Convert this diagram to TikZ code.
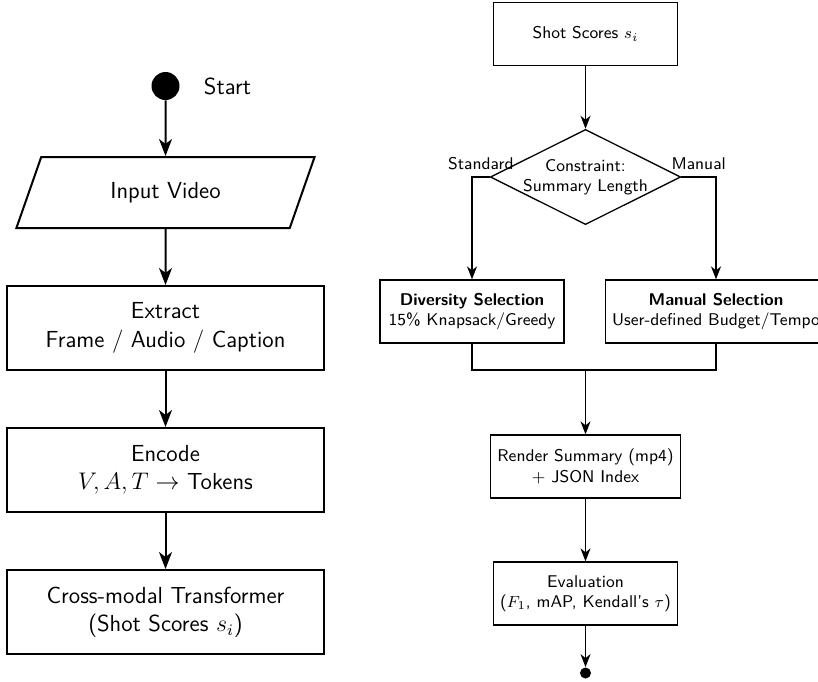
\documentclass[tikz,border=0pt]{standalone}
\usepackage{fontspec}
\usepackage{tikz}
\usetikzlibrary{arrows.meta}
\usetikzlibrary{shapes.geometric}
\usetikzlibrary{calc,positioning}

\begin{document}
\begin{tikzpicture}[x=0.5pt, y=-0.5pt,
    bigarrow/.style={-{Stealth[length=8.5pt, width=6.5pt, inset=2.5pt]}, line width=1pt},
    smallarrow/.style={-{Stealth[length=6.5pt, width=5pt, inset=2pt]}, line width=0.65pt},
    bigfont/.style={font=\sffamily\fontsize{11.6}{14.2}\selectfont},
    smallfont/.style={font=\sffamily\fontsize{8.5}{10.2}\selectfont},
    lbox/.style={draw, line width=1pt, bigfont, align=center, minimum width=158.5pt, minimum height=42pt},
    rbox/.style={draw, line width=0.65pt, smallfont, align=center, minimum width=92pt, minimum height=31.5pt},
    iobox/.style={trapezium, trapezium left angle=70, trapezium right angle=110, trapezium stretches=true,
        draw, line width=1pt, bigfont, minimum width=150pt, minimum height=35.5pt},
    decide/.style={diamond, aspect=2, draw, line width=0.65pt, smallfont, align=center, inner sep=-0.5pt},
    dot/.style={circle, fill=black, inner sep=0pt}]

    \useasboundingbox (0,0) rectangle (818,681);

    % left column
    \node[dot, minimum size=14pt] (start) at (165.5,86) {};
    \node[bigfont, right=8.5pt of start] (startlbl) {Start};
    \node[iobox] (input) at (165.5,192.5) {Input Video};
    \node[lbox] (extract) at (165.5,328) {Extract\\Frame / Audio / Caption};
    \node[lbox] (encode) at (165.5,470) {Encode\\$V, A, T \rightarrow$ Tokens};
    \node[lbox] (xmodal) at (165.5,612) {Cross-modal Transformer\\(Shot Scores $s_i$)};

    \draw[bigarrow] (start) -- (input);
    \draw[bigarrow] (input) -- (extract);
    \draw[bigarrow] (extract) -- (encode);
    \draw[bigarrow] (encode) -- (xmodal);

    % right column
    \node[rbox] (scores) at (585.5,34) {Shot Scores $s_i$};
    \node[decide] (constr) at (585.5,177) {Constraint:\\Summary Length};
    \node[rbox] (divsel) at (472,311.5) {\textbf{Diversity Selection}\\15\% Knapsack/Greedy};
    \node[rbox] (mansel) at (716,311.5) {\textbf{Manual Selection}\\User-defined Budget/Tempo};
    \coordinate (join) at (585.5,370);
    \node[rbox] (render) at (585.5,466.5) {Render Summary (mp4)\\+ JSON Index};
    \node[rbox] (evalbox) at (585.5,593.5) {Evaluation\\($F_1$, mAP, Kendall's $\tau$)};
    \node[dot, minimum size=5.5pt] (stop) at (585.5,673) {};

    \draw[smallarrow] (scores) -- (constr);
    \draw[smallarrow] (constr.west) -| node[above, pos=0.25, smallfont]{Standard} (divsel);
    \draw[smallarrow] (constr.east) -| node[above, pos=0.25, smallfont]{Manual} (mansel);
    \draw[line width=0.65pt] (divsel) |- (join) -| (mansel);
    \draw[smallarrow] (join) -- (render);
    \draw[smallarrow] (render) -- (evalbox);
    \draw[smallarrow] (evalbox) -- (stop);

\end{tikzpicture}
\end{document}
